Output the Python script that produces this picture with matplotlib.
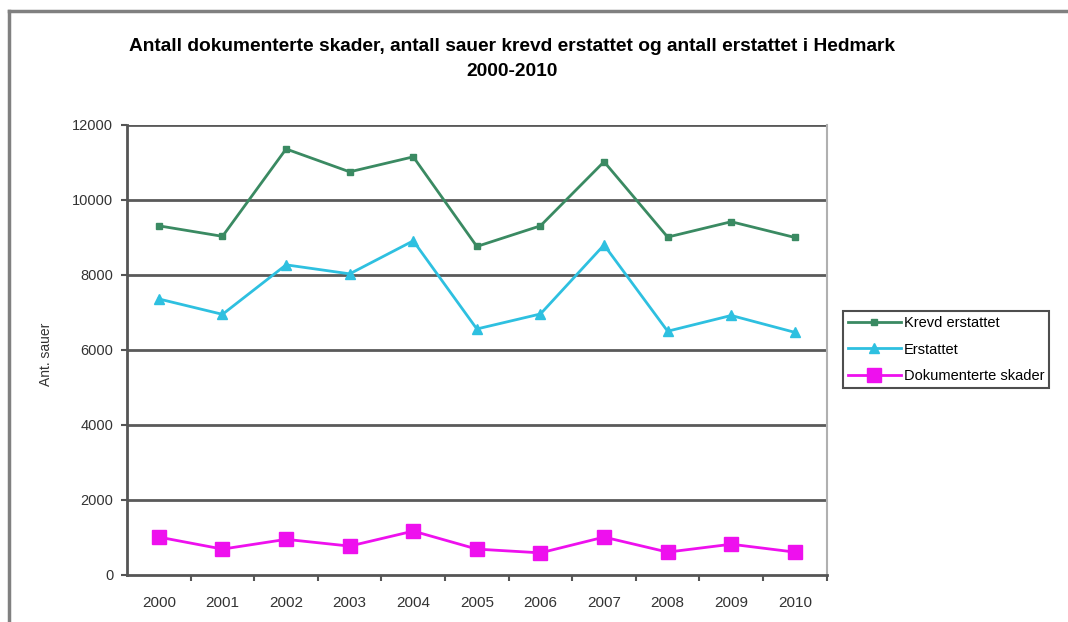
#!/usr/bin/env python3
# -*- coding: utf-8 -*-
"""
Sauer i Hedmark 2000-2010: krevd erstattet, erstattet og dokumenterte skader.
"""

import matplotlib
matplotlib.use('Agg')
import matplotlib.pyplot as plt
from matplotlib.lines import Line2D

plt.rcParams['font.family'] = ['Liberation Sans', 'DejaVu Sans']

YEARS = ['2000', '2001', '2002', '2003', '2004', '2005',
         '2006', '2007', '2008', '2009', '2010']
KREVD = [9310, 9030, 11360, 10750, 11150, 8760, 9310, 11020, 9010, 9420, 9000]
ERSTATTET = [7360, 6950, 8270, 8030, 8910, 6560, 6960, 8800, 6500, 6920, 6470]
DOKUMENTERT = [1010, 690, 950, 770, 1170, 690, 590, 1010, 610, 820, 610]
YTICKS = [0, 2000, 4000, 6000, 8000, 10000, 12000]

TITLE = ('Antall dokumenterte skader, antall sauer krevd erstattet og antall erstattet i Hedmark\n'
         '2000-2010')


def make_plot():
    fig = plt.figure(figsize=(10.68, 6.22), dpi=100)
    ax = fig.add_axes([0.119, 0.0756, 0.655, 0.7235])

    x = list(range(len(YEARS)))
    ax.plot(x, KREVD, color='#3a8a62', lw=2, marker='s', ms=5,
            label='Krevd erstattet', zorder=4)
    ax.plot(x, ERSTATTET, color='#2ec0e0', lw=2, marker='^', ms=7,
            label='Erstattet', zorder=4)
    ax.plot(x, DOKUMENTERT, color='#ee10ee', lw=2, marker='s', ms=10,
            label='Dokumenterte skader', zorder=4)

    ax.set_xlim(-0.5, len(YEARS) - 0.5)
    ax.set_ylim(0, 12000)
    ax.set_yticks(YTICKS)
    ax.set_yticklabels([str(v) for v in YTICKS])
    ax.set_xticks(x)
    ax.set_xticklabels(YEARS)
    ax.set_xticks([i + 0.5 for i in x], minor=True)

    ax.tick_params(axis='x', which='major', length=0, pad=15,
                   labelsize=11, labelcolor='#333333')
    ax.tick_params(axis='x', which='minor', length=4, width=1.5,
                   direction='out', color='#555555')
    ax.tick_params(axis='y', length=4, width=1.5, direction='out',
                   color='#555555', pad=6, labelsize=10.5, labelcolor='#333333')

    for v in YTICKS[1:]:
        ax.axhline(v, color='#5a5a5a', lw=2, zorder=1)

    ax.spines['top'].set_visible(False)
    ax.spines['right'].set_color('#b0b0b0')
    ax.spines['right'].set_linewidth(1.5)
    for s in ('left', 'bottom'):
        ax.spines[s].set_color('#555555')
        ax.spines[s].set_linewidth(2)

    fig.text(0.043, 1 - 354 / 622, 'Ant. sauer', rotation=90, ha='center',
             va='center', fontsize=10, color='#333333')

    fig.text(512 / 1068, 1 - 59 / 622, TITLE, ha='center', va='center',
             fontsize=13.8, fontweight='bold', linespacing=1.6)

    leg = fig.legend(loc='upper left', bbox_to_anchor=(843 / 1068, 1 - 311 / 622),
                     fontsize=10.5, frameon=True, fancybox=False, borderpad=0.35,
                     labelspacing=0.85, handlelength=3.6, handletextpad=0.2,
                     borderaxespad=0)
    leg.get_frame().set_edgecolor('#222222')
    leg.get_frame().set_linewidth(1.5)

    # outer chart frame
    fig.add_artist(Line2D([9 / 1068, 1], [1 - 11 / 622, 1 - 11 / 622],
                          color='#808080', lw=2.5, transform=fig.transFigure))
    fig.add_artist(Line2D([9 / 1068, 9 / 1068], [0, 1 - 11 / 622],
                          color='#808080', lw=2.5, transform=fig.transFigure))

    fig.savefig('out.png', dpi=100)


if __name__ == '__main__':
    make_plot()
